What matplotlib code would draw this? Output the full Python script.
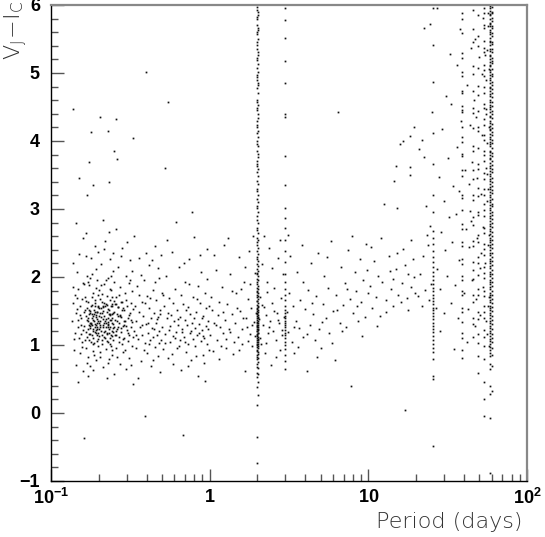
import matplotlib
matplotlib.use('Agg')
import matplotlib.pyplot as plt
from matplotlib.ticker import MultipleLocator, LogLocator, NullFormatter

# (period [days], V-I colour), short-period clump
short_stars = [
    (0.137, 1.62), (0.141, 1.18), (0.139, 0.93), (0.143, 1.47), (0.136, 1.35),
    (0.146, 2.07), (0.148, 1.26), (0.144, 0.71), (0.152, 1.58), (0.150, 1.11),
    (0.149, 1.83), (0.155, 1.39), (0.153, 0.88), (0.157, 1.67), (0.151, 2.34),
    (0.158, 1.22), (0.156, 1.04), (0.142, 1.74), (0.147, 0.45), (0.159, 1.91),
    (0.154, 1.30), (0.138, 2.21), (0.145, 1.53), (0.160, 0.62), (0.152, 1.44),
    (0.140, 1.09), (0.158, 2.58), (0.146, 1.69), (0.155, 1.16), (0.149, 1.37),
    (0.143, 2.79), (0.157, 0.97), (0.161, 1.49), (0.161, -0.37), (0.137, 1.86),
    (0.162, 1.28), (0.163, 1.71), (0.165, 0.96), (0.166, 1.43), (0.167, 1.19),
    (0.168, 2.02), (0.169, 1.55), (0.170, 0.82), (0.171, 1.36), (0.172, 1.63),
    (0.173, 1.07), (0.174, 1.88), (0.175, 1.25), (0.176, 1.47), (0.177, 0.69),
    (0.178, 1.33), (0.179, 2.28), (0.180, 1.14), (0.181, 1.59), (0.182, 1.40),
    (0.183, 0.91), (0.184, 1.77), (0.185, 1.21), (0.186, 1.52), (0.187, 1.03),
    (0.188, 1.31), (0.189, 2.46), (0.190, 1.66), (0.191, 1.17), (0.192, 1.44),
    (0.193, 0.78), (0.194, 1.38), (0.195, 1.95), (0.196, 1.24), (0.197, 1.57),
    (0.198, 1.09), (0.199, 1.35), (0.200, 1.81), (0.164, 1.52), (0.166, 2.31),
    (0.168, 1.12), (0.170, 1.39), (0.172, 0.55), (0.174, 1.46), (0.176, 1.98),
    (0.178, 1.04), (0.180, 1.29), (0.182, 1.71), (0.184, 1.37), (0.186, 0.86),
    (0.188, 1.62), (0.190, 1.27), (0.192, 2.12), (0.194, 1.15), (0.196, 1.49),
    (0.198, 0.98), (0.200, 1.33), (0.163, 1.08), (0.167, 1.64), (0.171, 1.93),
    (0.175, 1.32), (0.179, 1.58), (0.183, 1.23), (0.187, 1.45), (0.191, 1.84),
    (0.195, 1.06), (0.199, 1.56), (0.165, 2.64), (0.169, 0.74), (0.173, 1.30),
    (0.177, 1.50), (0.181, 2.05), (0.185, 0.63), (0.189, 1.19), (0.193, 1.41),
    (0.197, 1.73), (0.162, 1.90), (0.176, 1.16), (0.184, 1.01), (0.192, 1.29),
    (0.198, 2.37),
    (0.201, 1.42), (0.202, 1.13), (0.203, 1.68), (0.204, 0.90), (0.205, 1.36),
    (0.206, 1.54), (0.207, 1.21), (0.208, 2.19), (0.209, 1.47), (0.210, 1.02),
    (0.211, 1.75), (0.212, 1.30), (0.213, 0.67), (0.214, 1.58), (0.215, 1.19),
    (0.216, 1.43), (0.217, 1.89), (0.218, 1.10), (0.219, 1.35), (0.220, 2.53),
    (0.221, 1.26), (0.222, 1.61), (0.223, 0.94), (0.224, 1.48), (0.225, 1.16),
    (0.226, 1.72), (0.227, 1.39), (0.228, 1.05), (0.229, 1.99), (0.230, 1.31),
    (0.231, 0.79), (0.232, 1.52), (0.233, 1.24), (0.234, 1.66), (0.235, 1.11),
    (0.236, 2.27), (0.237, 1.44), (0.238, 0.99), (0.239, 1.37), (0.240, 1.81),
    (0.241, 1.20), (0.242, 1.57), (0.243, 0.85), (0.244, 1.33), (0.245, 2.09),
    (0.246, 1.47), (0.247, 1.08), (0.248, 1.64), (0.249, 1.27), (0.250, 0.58),
    (0.203, 1.26), (0.207, 1.88), (0.211, 1.08), (0.215, 2.41), (0.219, 1.57),
    (0.223, 1.32), (0.227, 0.74), (0.231, 1.45), (0.235, 1.83), (0.239, 1.14),
    (0.243, 1.61), (0.247, 2.36), (0.205, 0.83), (0.209, 1.63), (0.213, 1.38),
    (0.217, 1.12), (0.221, 1.96), (0.225, 0.51), (0.229, 1.29), (0.233, 2.66),
    (0.237, 1.02), (0.241, 1.70), (0.245, 1.25), (0.249, 1.92), (0.212, 2.84),
    (0.226, 1.18), (0.238, 2.02), (0.244, 0.92),
    (0.252, 1.37), (0.254, 1.14), (0.256, 1.70), (0.258, 0.96), (0.260, 1.45),
    (0.262, 1.23), (0.264, 2.14), (0.266, 1.56), (0.268, 1.05), (0.270, 1.32),
    (0.272, 1.86), (0.274, 0.72), (0.276, 1.41), (0.278, 1.19), (0.280, 1.63),
    (0.282, 2.43), (0.284, 1.28), (0.286, 0.89), (0.288, 1.51), (0.290, 1.10),
    (0.292, 1.77), (0.294, 1.35), (0.296, 2.01), (0.298, 0.64), (0.300, 1.22),
    (0.302, 1.58), (0.304, 1.06), (0.306, 1.39), (0.308, 1.91), (0.310, 1.15),
    (0.312, 0.81), (0.314, 1.47), (0.316, 2.25), (0.318, 1.26), (0.320, 1.62),
    (0.322, 0.98), (0.324, 1.34), (0.326, 1.79), (0.328, 1.12), (0.330, 0.43),
    (0.253, 1.60), (0.257, 2.71), (0.261, 0.82), (0.265, 1.27), (0.269, 1.73),
    (0.273, 1.43), (0.277, 2.31), (0.281, 1.01), (0.285, 1.55), (0.289, 1.29),
    (0.293, 0.93), (0.297, 1.66), (0.301, 2.52), (0.305, 1.18), (0.309, 1.44),
    (0.313, 1.96), (0.317, 0.70), (0.321, 1.37), (0.325, 2.09), (0.329, 1.53),
    (0.333, 1.21), (0.337, 1.58), (0.341, 0.95), (0.345, 1.36), (0.349, 1.87),
    (0.353, 1.09), (0.357, 1.49), (0.361, 2.28), (0.365, 1.27), (0.369, 0.76),
    (0.373, 1.63), (0.377, 1.14), (0.381, 1.42), (0.385, 1.95), (0.389, 1.03),
    (0.393, -0.05), (0.397, 1.31), (0.401, 1.72), (0.405, 0.88), (0.409, 1.18),
    (0.413, 1.54), (0.417, 2.17), (0.421, 1.07), (0.425, 1.39), (0.429, 0.69),
    (0.433, 1.25), (0.437, 1.81), (0.441, 1.12), (0.445, 1.47), (0.449, 2.46),
    (0.453, 0.97), (0.457, 1.33), (0.461, 1.66), (0.465, 1.15), (0.469, 0.84),
    (0.473, 1.41), (0.477, 1.99), (0.481, 1.20), (0.485, 0.61), (0.489, 1.52),
    (0.493, 1.08), (0.497, 1.76),
    (0.335, 2.61), (0.343, 1.14), (0.351, 0.52), (0.359, 1.74), (0.367, 2.03),
    (0.375, 1.29), (0.383, 0.92), (0.391, 1.62), (0.399, 2.36), (0.407, 1.33),
    (0.415, 1.01), (0.423, 1.69), (0.431, 2.25), (0.439, 0.78), (0.447, 1.24),
    (0.455, 1.92), (0.463, 1.38), (0.471, 2.13), (0.479, 1.03), (0.487, 1.46),
    (0.495, 2.32),
]

# the crowded core of the clump
core_stars = [
    (0.171, 1.24), (0.174, 1.52), (0.178, 1.31), (0.181, 1.46), (0.183, 1.11),
    (0.186, 1.36), (0.189, 1.57), (0.191, 1.22), (0.194, 1.49), (0.196, 1.33),
    (0.199, 1.18), (0.202, 1.55), (0.204, 1.29), (0.207, 1.41), (0.209, 1.15),
    (0.212, 1.50), (0.214, 1.27), (0.217, 1.62), (0.219, 1.20), (0.222, 1.38),
    (0.224, 1.06), (0.227, 1.53), (0.229, 1.34), (0.232, 1.17), (0.234, 1.45),
    (0.237, 1.26), (0.239, 1.58), (0.242, 1.13), (0.244, 1.40), (0.247, 1.31),
    (0.251, 1.49), (0.255, 1.21), (0.259, 1.36), (0.263, 1.56), (0.267, 1.12),
    (0.271, 1.44), (0.275, 1.25), (0.279, 1.52), (0.283, 1.09), (0.287, 1.35),
    (0.176, 1.28), (0.185, 1.42), (0.195, 1.26), (0.205, 1.47), (0.215, 1.33),
    (0.225, 1.59), (0.235, 1.37), (0.245, 1.19), (0.255, 1.61), (0.265, 1.43),
    (0.168, 1.37), (0.173, 1.16), (0.188, 1.49), (0.201, 1.23), (0.213, 1.56),
    (0.228, 1.27), (0.241, 1.46), (0.258, 1.14), (0.276, 1.63), (0.295, 1.28),
]

# half a day to two days
mid_stars = [
    (0.503, 1.27), (0.511, 0.94), (0.518, 1.58), (0.524, 1.16), (0.531, 2.02),
    (0.537, 1.39), (0.544, 0.81), (0.551, 1.22), (0.557, 1.69), (0.564, 1.05),
    (0.571, 1.44), (0.578, 2.37), (0.584, 1.13), (0.591, 0.72), (0.598, 1.35),
    (0.605, 1.82), (0.612, 1.19), (0.619, 1.52), (0.626, 0.96), (0.633, 1.29),
    (0.640, 2.14), (0.647, 1.08), (0.654, 1.41), (0.661, 0.63), (0.668, 1.24),
    (0.675, -0.32), (0.682, 1.61), (0.689, 1.12), (0.696, 1.37), (0.703, 1.93),
    (0.710, 0.89), (0.717, 1.30), (0.725, 1.56), (0.733, 1.02), (0.741, 2.26),
    (0.749, 1.18), (0.757, 1.46), (0.765, 0.78), (0.773, 1.33), (0.781, 1.71),
    (0.789, 1.09), (0.797, 2.59), (0.805, 1.25), (0.813, 0.98), (0.822, 1.49),
    (0.831, 1.15), (0.840, 1.87), (0.849, 0.55), (0.858, 1.31), (0.867, 1.62),
    (0.876, 1.06), (0.885, 2.08), (0.894, 1.22), (0.903, 0.86), (0.912, 1.43),
    (0.921, 1.10), (0.930, 1.77), (0.939, 0.47), (0.948, 1.28), (0.957, 2.41),
    (0.966, 1.01), (0.975, 1.36), (0.985, 1.58), (0.995, 0.92),
    (0.507, 1.74), (0.521, 1.03), (0.535, 2.55), (0.548, 1.47), (0.562, 1.28),
    (0.575, 0.87), (0.589, 1.62), (0.602, 1.11), (0.616, 2.81), (0.629, 1.38),
    (0.643, 0.99), (0.656, 1.73), (0.670, 1.19), (0.684, 2.20), (0.698, 1.04),
    (0.712, 1.51), (0.727, 0.69), (0.745, 1.90), (0.761, 1.21), (0.777, 2.95),
    (0.793, 1.40), (0.817, 0.84), (0.836, 1.67), (0.854, 1.17), (0.872, 2.32),
    (0.890, 1.39), (0.908, 1.13), (0.926, 0.74), (0.944, 1.54), (0.962, 1.97),
    (0.980, 1.23),
    (1.01, 1.14), (1.03, 1.52), (1.05, 0.91), (1.07, 1.33), (1.09, 2.11),
    (1.11, 1.07), (1.13, 1.44), (1.15, 0.79), (1.17, 1.26), (1.19, 1.85),
    (1.21, 1.18), (1.23, 2.47), (1.25, 1.37), (1.27, 0.96), (1.29, 1.61),
    (1.32, 1.23), (1.35, 2.04), (1.38, 1.45), (1.41, 0.87), (1.44, 1.32),
    (1.47, 1.76), (1.50, 1.12), (1.53, 2.29), (1.56, 1.50), (1.59, 1.01),
    (1.62, 1.39), (1.65, 1.92), (1.68, 0.62), (1.71, 1.27), (1.74, 1.68),
    (1.77, 2.38), (1.80, 1.16), (1.83, 1.55), (1.86, 0.98), (1.89, 1.34),
    (1.92, 2.06), (1.95, 1.47),
    (1.02, 1.71), (1.06, 2.33), (1.10, 1.29), (1.14, 1.63), (1.18, 0.99),
    (1.22, 1.48), (1.26, 1.09), (1.30, 2.58), (1.34, 1.19), (1.39, 1.80),
    (1.43, 1.05), (1.48, 1.54), (1.52, 0.93), (1.57, 1.83), (1.61, 1.24),
    (1.66, 2.15), (1.70, 1.40), (1.75, 1.06), (1.79, 1.89), (1.84, 1.30),
    (1.88, 2.61), (1.93, 1.13),
]

# two days to twenty days
long_stars = [
    (2.05, 1.38), (2.08, 1.71), (2.11, 1.02), (2.14, 2.19), (2.17, 1.29),
    (2.20, 1.56), (2.23, 0.88), (2.26, 1.44), (2.29, 1.93), (2.32, 1.17),
    (2.36, 2.42), (2.40, 1.35), (2.44, 0.71), (2.48, 1.62), (2.52, 1.21),
    (2.56, 1.84), (2.60, 1.08), (2.64, 1.47), (2.68, 2.28), (2.72, 1.32),
    (2.76, 0.93), (2.80, 1.69), (2.84, 1.15), (2.88, 2.05), (2.92, 1.41),
    (2.07, 1.11), (2.13, 1.59), (2.19, 2.61), (2.25, 1.03), (2.31, 1.78),
    (2.38, 1.26), (2.46, 2.13), (2.54, 1.50), (2.62, 0.83), (2.70, 1.37),
    (2.78, 2.54), (2.86, 1.22),
    (3.05, 1.48), (3.10, 1.19), (3.16, 1.77), (3.22, 2.31), (3.28, 1.04),
    (3.35, 1.58), (3.42, 0.88), (3.49, 1.36), (3.57, 2.08), (3.65, 1.25),
    (3.73, 1.66), (3.81, 2.47), (3.90, 1.12), (3.99, 1.53), (4.08, 0.62),
    (4.17, 1.81), (4.27, 1.30), (4.37, 2.21), (4.47, 1.45), (4.58, 1.07),
    (4.69, 1.72), (4.80, 2.36), (4.92, 1.23), (5.04, 0.95), (5.16, 1.61),
    (5.29, 2.02), (5.42, 1.39), (5.55, 1.84), (5.69, 1.17), (5.83, 2.53),
    (5.97, 1.50), (6.12, 0.78), (6.27, 1.73), (6.42, 4.42), (6.58, 1.33),
    (6.74, 2.15), (6.91, 1.59), (7.08, 1.91), (7.26, 1.26), (7.44, 2.39),
    (7.62, 1.68), (7.81, 0.39), (8.00, 1.47), (8.20, 2.07), (8.40, 1.79),
    (8.61, 1.35), (8.82, 2.26), (9.04, 1.63), (9.26, 1.95), (9.49, 1.41),
    (9.72, 2.48), (9.96, 1.77),
    (3.13, 2.62), (3.38, 1.27), (3.61, 0.97), (3.86, 1.92), (4.12, 1.16),
    (4.42, 1.62), (4.74, 0.82), (5.10, 1.34), (5.48, 2.30), (5.90, 1.03),
    (6.34, 1.52), (6.82, 1.21), (7.35, 1.83), (7.90, 2.61), (8.50, 1.58),
    (9.15, 1.13), (9.85, 2.10),
    (10.2, 1.87), (10.5, 1.54), (10.8, 2.23), (11.1, 1.71), (11.5, 2.01),
    (11.8, 1.42), (12.2, 1.93), (12.6, 3.08), (13.0, 1.66), (13.4, 2.31),
    (13.8, 1.82), (14.2, 1.58), (14.6, 3.41), (15.0, 2.12), (15.4, 1.74),
    (15.8, 3.96), (16.2, 1.91), (16.6, 2.41), (17.0, 0.05), (17.4, 1.69),
    (17.8, 2.05), (18.2, 3.62), (18.6, 1.86), (19.0, 2.27), (19.4, 4.21),
    (19.8, 1.77),
    (10.4, 2.44), (11.3, 1.28), (12.0, 2.58), (12.9, 1.49), (13.6, 2.09),
    (14.4, 1.97), (15.2, 2.36), (16.0, 1.63), (16.9, 2.18), (17.7, 1.51),
    (18.5, 2.54), (19.5, 2.00),
    (16.5, 4.00), (18.4, 4.08), (14.9, 3.63), (18.3, 3.50), (15.1, 3.02),
    (22.5, 5.66), (22.4, 3.76),
]

# twenty to sixty days, red stars of every colour
wide_stars = [
    (20.6, 1.72), (21.2, 2.04), (20.9, 3.88), (21.7, 1.58), (22.1, 2.31),
    (21.9, 4.02), (22.8, 1.81), (23.3, 2.62), (23.0, 3.05), (24.1, 1.66),
    (23.7, 2.47), (24.4, 5.72), (24.9, 1.90), (24.6, 2.75), (25.1, 4.43),
    (26.6, 1.55), (27.2, 2.12), (27.9, 3.47), (26.9, 5.95), (28.4, 1.83),
    (28.9, 2.66), (29.3, 4.18), (28.1, 1.21), (29.8, 1.47), (30.4, 2.39),
    (30.1, 3.12), (31.0, 4.66), (31.5, 2.01), (32.1, 2.88), (31.8, 3.75),
    (32.6, 5.28), (33.0, 1.62), (33.6, 2.51), (34.0, 3.34), (33.3, 4.55),
    (34.6, 0.94), (35.1, 1.88), (35.5, 2.93), (36.0, 3.91), (36.4, 5.12),
    (36.9, 1.39), (37.5, 2.25), (37.1, 3.26), (38.2, 4.29), (37.8, 5.64),
    (40.3, 1.76), (41.0, 2.70), (40.7, 3.58), (41.6, 4.83), (42.0, 1.05),
    (42.4, 1.53), (43.1, 2.44), (42.8, 3.37), (43.6, 4.24), (44.3, 5.37),
    (43.9, 2.97), (45.0, 1.95), (44.6, 2.82), (45.2, 3.69), (46.3, 4.61),
    (46.8, 5.50), (47.2, 1.28), (47.7, 1.67), (48.1, 2.58), (48.4, 3.45),
    (47.4, 4.36), (50.0, 5.23), (50.4, 2.13), (50.8, 1.44), (51.3, 2.36),
    (51.6, 3.22), (51.9, 4.09), (52.3, 4.98), (52.6, 5.81), (53.0, 1.86),
    (52.9, 2.73), (55.0, 3.61), (55.4, 4.47), (55.8, 5.34), (56.1, 1.16),
    (56.5, 1.58), (56.8, 2.47), (57.1, 3.30), (57.4, 4.21), (57.7, 5.06),
    (57.0, 5.88), (55.2, 1.35), (54.6, 2.20), (56.3, 3.12), (55.6, 3.97),
    (54.9, 4.89), (56.7, 5.69), (57.9, 1.71), (57.3, 2.62), (56.0, 3.51),
    (55.3, 4.40), (54.7, 5.27), (57.5, 0.98),
]

# isolated stars above the main locus
outlier_periods = [0.397, 0.546, 0.138, 0.204, 0.256, 0.179, 0.228, 0.329,
                   0.249, 0.260, 0.174, 0.523, 0.150, 0.185, 0.232, 0.168]
outlier_colours = [5.01, 4.57, 4.47, 4.35, 4.32, 4.13, 4.15, 4.05,
                   3.86, 3.73, 3.69, 3.61, 3.45, 3.35, 3.39, 3.20]

# stars piling up at aliased periods (vertical streaks)
streak_periods = [1.99, 2.02, 2.99, 25.6, 39.0, 45.7, 49.1, 53.6, 58.6, 59.8]
streak_colours = [
    [5.97, 5.93, 5.82, 5.79, 5.71, 5.60, 5.57, 5.45, 5.41, 5.36, 5.22, 5.19,
     5.08, 4.97, 4.94, 4.90, 4.78, 4.61, 4.57, 4.49, 4.46, 4.30, 4.24, 4.21,
     4.12, 4.00, 3.96, 3.86, 3.70, 3.66, 3.63, 3.55, 3.41, 3.30, 3.27, 3.14,
     3.04, 3.01, 2.90, 2.84, 2.72, 2.69, 2.58, 2.51, 2.47, 2.38, 2.29, 2.27,
     2.19, 2.12, 2.06, 2.04, 1.97, 1.92, 1.90, 1.84, 1.80, 1.78, 1.73, 1.70,
     1.65, 1.64, 1.59, 1.55, 1.53, 1.50, 1.47, 1.46, 1.42, 1.40, 1.37, 1.34,
     1.33, 1.30, 1.28, 1.26, 1.23, 1.21, 1.20, 1.16, 1.14, 1.13, 1.10, 1.07,
     1.05, 1.02, 1.00, 0.97, 0.93, 0.91, 0.86, 0.83, 0.79, 0.72, 0.68, 0.59,
     0.53, 0.38, 0.12, -0.35, -0.73],
    [5.90, 5.86, 5.66, 5.63, 5.50, 5.31, 5.27, 5.13, 5.01, 4.85, 4.82, 4.70,
     4.53, 4.39, 4.34, 4.15, 4.06, 3.92, 3.81, 3.76, 3.59, 3.48, 3.37, 3.21,
     3.10, 2.96, 2.79, 2.64, 2.55, 2.43, 2.34, 2.24, 2.16, 2.09, 2.01, 1.95,
     1.87, 1.83, 1.76, 1.72, 1.67, 1.62, 1.57, 1.56, 1.51, 1.48, 1.44, 1.41,
     1.39, 1.36, 1.32, 1.29, 1.27, 1.24, 1.22, 1.18, 1.17, 1.12, 1.09, 1.08,
     1.04, 1.01, 0.98, 0.95, 0.89, 0.87, 0.81, 0.75, 0.66, 0.57, 0.45, 0.26],
    [5.95, 5.78, 5.52, 5.18, 4.86, 4.40, 4.35, 3.78, 3.35, 3.02, 2.87, 2.72,
     2.55, 2.38, 2.22, 2.05, 1.92, 1.82, 1.74, 1.66, 1.58, 1.52, 1.47, 1.43,
     1.40, 1.36, 1.33, 1.29, 1.26, 1.22, 1.18, 1.14, 1.10, 1.05, 1.00, 0.94,
     0.86, 0.77, 0.65],
    [5.96, 5.41, 4.87, 4.12, 3.66, 3.21, 2.95, 2.68, 2.58, 2.49, 2.38, 2.30,
     2.22, 2.15, 2.08, 2.01, 1.95, 1.89, 1.84, 1.79, 1.74, 1.69, 1.64, 1.60,
     1.55, 1.51, 1.47, 1.42, 1.38, 1.33, 1.28, 1.24, 1.19, 1.13, 1.08, 1.02,
     0.96, 0.89, 0.79, 0.55, 0.50, -0.48],
    [5.88, 5.79, 5.59, 5.30, 5.22, 5.01, 4.95, 4.74, 4.71, 4.52, 4.46, 4.42,
     4.20, 4.06, 3.99, 3.81, 3.78, 3.57, 3.49, 3.21, 3.16, 2.98, 2.78, 2.71,
     2.52, 2.46, 2.26, 2.19, 2.02, 1.96, 1.79, 1.73, 1.55, 1.49, 1.34, 1.18,
     1.11, 0.93, 0.81],
    [5.92, 5.64, 5.46, 5.11, 4.98, 4.74, 4.49, 4.41, 4.19, 3.92, 3.85, 3.58,
     3.44, 3.21, 3.13, 2.88, 2.77, 2.53, 2.45, 2.22, 2.10, 1.97, 1.74, 1.63,
     1.40, 1.31, 1.12],
    [5.85, 5.55, 5.40, 5.08, 4.81, 4.67, 4.44, 4.21, 4.14, 3.89, 3.66, 3.59,
     3.31, 3.19, 2.96, 2.91, 2.62, 2.51, 2.29, 2.21, 2.03, 1.82, 1.74, 1.49,
     1.38, 1.16, 1.03, 0.84, 0.59],
    [5.96, 5.88, 5.71, 5.66, 5.47, 5.37, 5.31, 5.12, 5.04, 4.96, 4.80, 4.70,
     4.55, 4.49, 4.33, 4.24, 4.09, 4.02, 3.86, 3.79, 3.71, 3.53, 3.44, 3.29,
     3.21, 3.07, 2.98, 2.90, 2.72, 2.64, 2.48, 2.41, 2.33, 2.15, 2.06, 1.98,
     1.80, 1.72, 1.57, 1.49, 1.40, 1.22, 1.12, 0.98, 0.80, 0.45, 0.20, -0.05],
    [5.98, 5.96, 5.91, 5.87, 5.85, 5.80, 5.74, 5.72, 5.69, 5.63, 5.60, 5.58,
     5.52, 5.47, 5.45, 5.41, 5.36, 5.33, 5.27, 5.25, 5.21, 5.16, 5.12, 5.10,
     5.04, 5.01, 4.97, 4.92, 4.90, 4.85, 4.80, 4.78, 4.73, 4.69, 4.66, 4.61,
     4.58, 4.53, 4.50, 4.47, 4.42, 4.37, 4.35, 4.30, 4.27, 4.22, 4.18, 4.16,
     4.11, 4.06, 4.03, 3.99, 3.95, 3.92, 3.86, 3.84, 3.79, 3.75, 3.73, 3.68,
     3.63, 3.61, 3.56, 3.52, 3.49, 3.44, 3.41, 3.37, 3.32, 3.30, 3.25, 3.21,
     3.18, 3.13, 3.10, 3.06, 3.01, 2.98, 2.94, 2.90, 2.87, 2.82, 2.78, 2.75,
     2.70, 2.67, 2.63, 2.58, 2.55, 2.51, 2.47, 2.44, 2.39, 2.36, 2.32, 2.27,
     2.24, 2.20, 2.16, 2.13, 2.08, 2.05, 2.01, 1.96, 1.93, 1.89, 1.85, 1.82,
     1.77, 1.74, 1.70, 1.66, 1.63, 1.58, 1.55, 1.51, 1.47, 1.44, 1.39, 1.36,
     1.32, 1.28, 1.25, 1.20, 1.17, 1.13, 1.09, 1.06, 1.01, 0.97, 0.93, 0.88,
     0.84, 0.72, 0.65, 0.40, 0.28, -0.07, -0.88],
    [5.97, 5.90, 5.88, 5.81, 5.77, 5.69, 5.66, 5.59, 5.55, 5.46, 5.43, 5.36,
     5.31, 5.22, 5.18, 5.14, 5.06, 4.99, 4.95, 4.87, 4.82, 4.76, 4.70, 4.64,
     4.57, 4.52, 4.44, 4.39, 4.34, 4.25, 4.19, 4.13, 4.09, 4.02, 3.97, 3.89,
     3.82, 3.78, 3.70, 3.65, 3.59, 3.54, 3.46, 3.39, 3.34, 3.28, 3.24, 3.15,
     3.08, 3.04, 2.96, 2.91, 2.85, 2.79, 2.73, 2.66, 2.60, 2.54, 2.48, 2.42,
     2.35, 2.29, 2.23, 2.17, 2.11, 2.04, 1.98, 1.92, 1.87, 1.80, 1.73, 1.68,
     1.62, 1.56, 1.50, 1.43, 1.37, 1.31, 1.23, 1.16, 1.11, 1.04, 0.95, 0.86,
     0.69, 0.33],
]

xtick_labels = [r'$\mathbf{10^{-1}}$', r'$\mathbf{1}$', r'$\mathbf{10}$',
                r'$\mathbf{10^{2}}$']


def main():
    plt.rcParams['mathtext.fontset'] = 'custom'
    plt.rcParams['mathtext.bf'] = 'Liberation Sans:bold'
    plt.rcParams['mathtext.rm'] = 'Liberation Sans'

    fig = plt.figure(figsize=(5.45, 5.37), dpi=100)
    ax = fig.add_axes([0.0936, 0.1043, 0.8734, 0.8864])

    P, C = [], []
    for group in (short_stars, core_stars, mid_stars, long_stars, wide_stars):
        for p, c in group:
            P.append(p)
            C.append(c)
    P += outlier_periods
    C += outlier_colours
    for p, cols in zip(streak_periods, streak_colours):
        P += [p] * len(cols)
        C += cols

    ax.plot(P, C, 's', ms=1.25, mew=0, color='#111111')

    ax.set_xscale('log')
    ax.set_xlim(0.1, 100)
    ax.set_ylim(-1, 6)

    ax.set_xticks([0.1, 1, 10, 100], labels=xtick_labels)
    ax.xaxis.set_minor_locator(LogLocator(base=10, subs=range(2, 10)))
    ax.xaxis.set_minor_formatter(NullFormatter())
    ax.yaxis.set_major_locator(MultipleLocator(1))
    ax.yaxis.set_minor_locator(MultipleLocator(0.2))
    for lab in ax.get_yticklabels():
        lab.set_fontweight('bold')
        lab.set_fontfamily('Liberation Sans')

    ax.tick_params(which='both', direction='in', top=False, right=False,
                   labelsize=13)
    ax.tick_params(which='major', length=9, width=1, color='#555555')
    ax.tick_params(which='minor', length=5, width=1, color='#555555')
    ax.tick_params(axis='y', pad=8)
    ax.tick_params(axis='x', pad=5)

    for s in ['top', 'right']:
        ax.spines[s].set_color('#888888')
        ax.spines[s].set_linewidth(1.6)
    for s in ['left', 'bottom']:
        ax.spines[s].set_color('black')
        ax.spines[s].set_linewidth(1.0)

    ax.set_xlabel('Period (days)', loc='right', fontsize=16,
                  family='DejaVu Sans', weight='light', color='#333333')
    ax.xaxis.label.set_va('center')
    ax.xaxis.set_label_coords(0.99, -0.086)
    ax.set_ylabel(r'$\mathregular{V_J\!-\!I_C}$', loc='top', fontsize=16,
                  family='DejaVu Sans', weight='light', color='#333333')
    ax.yaxis.label.set_va('center')
    ax.yaxis.set_label_coords(-0.074, 1.01)

    fig.savefig('out.png', dpi=100)


if __name__ == '__main__':
    main()
